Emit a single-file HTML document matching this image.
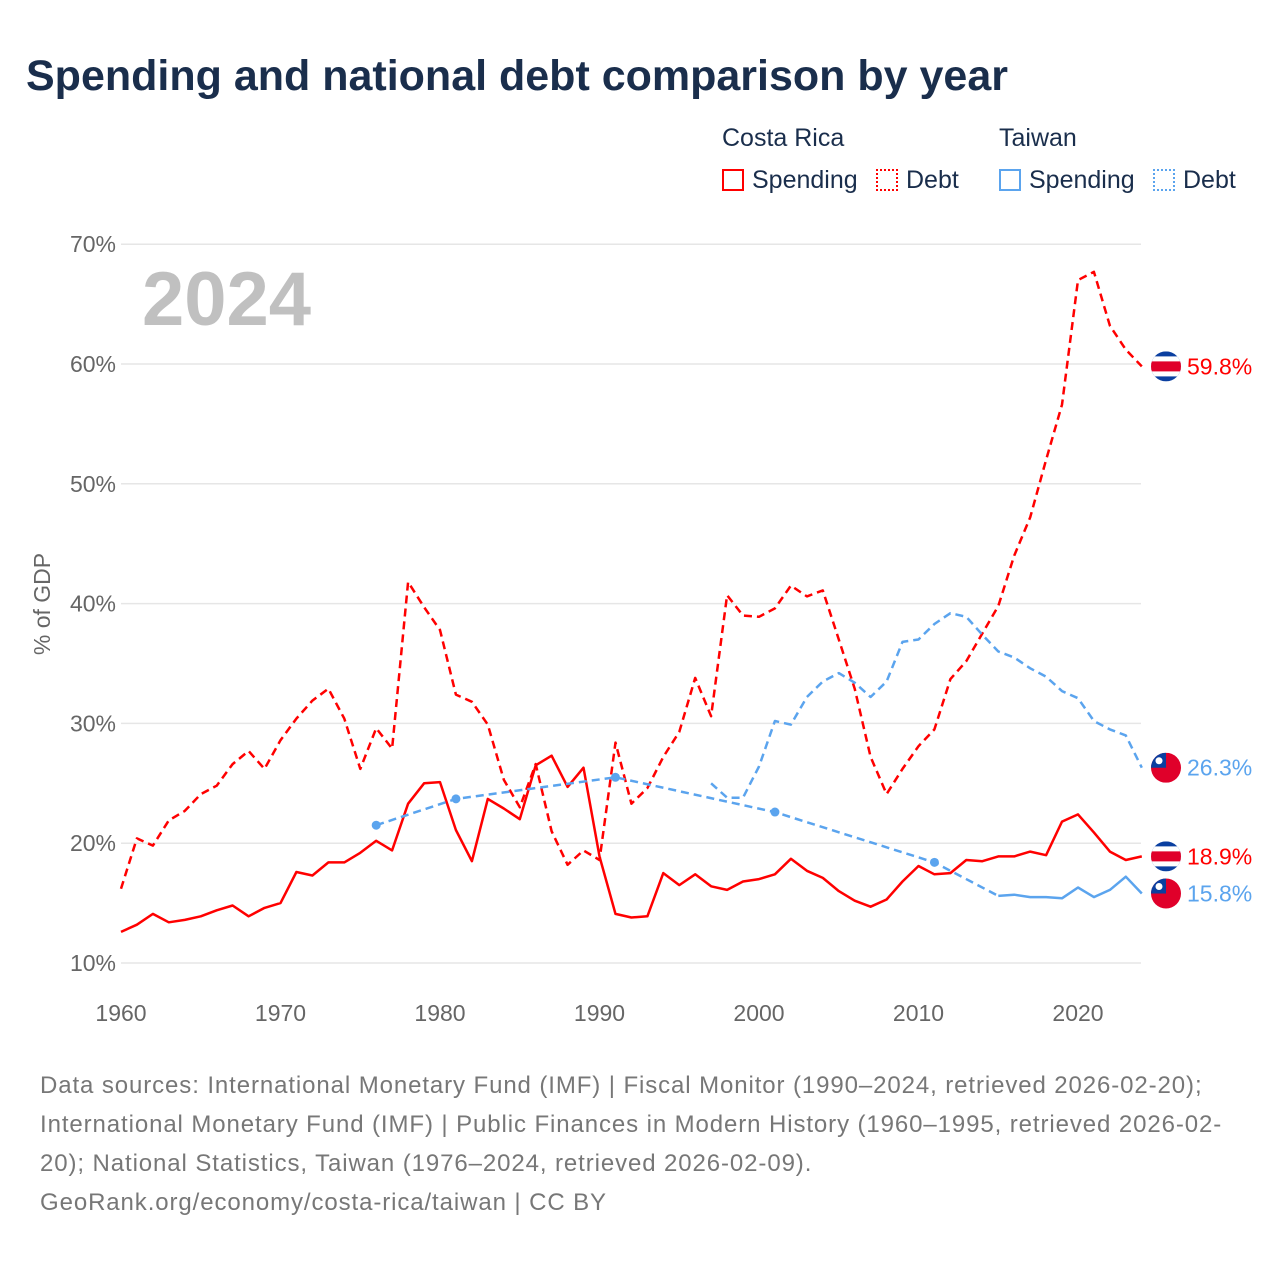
<!DOCTYPE html>
<html><head><meta charset="utf-8"><style>
body{margin:0;background:#fff;font-family:"Liberation Sans",sans-serif;}
#wrap{position:relative;width:1280px;height:1280px;overflow:hidden;}
.t{position:absolute;white-space:nowrap;}
</style></head><body>
<div id="wrap">
<div class="t" style="left:26px;top:52px;font-size:43px;font-weight:bold;color:#1a2e4c;">Spending and national debt comparison by year</div>
<div class="t" style="left:722px;top:124px;font-size:25px;color:#1a2e4c;">Costa Rica</div>
<div class="t" style="left:999px;top:124px;font-size:25px;color:#1a2e4c;">Taiwan</div>
<div class="t" style="left:722px;top:166px;font-size:25px;color:#1a2e4c;"><span style="display:inline-block;width:22px;height:22px;border:2px solid #ff0000;box-sizing:border-box;vertical-align:-3px;margin-right:8px"></span>Spending</div>
<div class="t" style="left:876px;top:166px;font-size:25px;color:#1a2e4c;"><span style="display:inline-block;width:22px;height:22px;border:2px dotted #ff0000;box-sizing:border-box;vertical-align:-3px;margin-right:8px"></span>Debt</div>
<div class="t" style="left:999px;top:166px;font-size:25px;color:#1a2e4c;"><span style="display:inline-block;width:22px;height:22px;border:2px solid #5ba4ee;box-sizing:border-box;vertical-align:-3px;margin-right:8px"></span>Spending</div>
<div class="t" style="left:1153px;top:166px;font-size:25px;color:#1a2e4c;"><span style="display:inline-block;width:22px;height:22px;border:2px dotted #5ba4ee;box-sizing:border-box;vertical-align:-3px;margin-right:8px"></span>Debt</div>
<svg id="chart" width="1280" height="1280" style="position:absolute;left:0;top:0"></svg>
<div class="t" style="left:40px;top:1066px;font-size:24px;letter-spacing:0.9px;line-height:39px;color:#777;white-space:normal;width:1200px;">Data sources: International Monetary Fund (IMF) | Fiscal Monitor (1990–2024, retrieved 2026-02-20); International Monetary Fund (IMF) | Public Finances in Modern History (1960–1995, retrieved 2026-02-20); National Statistics, Taiwan (1976–2024, retrieved 2026-02-09).<br>GeoRank.org/economy/costa-rica/taiwan | CC BY</div>
</div>
<script>
const yTicks=[10,20,30,40,50,60,70];
const xTicks=[1960,1970,1980,1990,2000,2010,2020];
const crYears=[];for(let y=1960;y<=2024;y++)crYears.push(y);
const crDebt=[16.2,20.4,19.8,21.9,22.7,24.1,24.8,26.6,27.7,26.2,28.6,30.4,31.9,32.9,30.4,26.2,29.6,27.9,41.8,39.7,37.8,32.4,31.8,29.9,25.3,23.0,26.6,21.0,18.2,19.4,18.6,28.4,23.3,24.6,27.2,29.3,33.8,30.6,40.7,39.0,38.9,39.6,41.5,40.6,41.1,37.0,32.9,27.2,24.1,26.2,28.1,29.5,33.7,35.2,37.5,39.8,44.0,47.2,52.0,56.6,67.0,67.7,63.2,61.2,59.8];
const crSpending=[12.6,13.2,14.1,13.4,13.6,13.9,14.4,14.8,13.9,14.6,15.0,17.6,17.3,18.4,18.4,19.2,20.2,19.4,23.3,25.0,25.1,21.1,18.5,23.7,22.9,22.0,26.5,27.3,24.7,26.3,18.9,14.1,13.8,13.9,17.5,16.5,17.4,16.4,16.1,16.8,17.0,17.4,18.7,17.7,17.1,16.0,15.2,14.7,15.3,16.8,18.1,17.4,17.5,18.6,18.5,18.9,18.9,19.3,19.0,21.8,22.4,20.9,19.3,18.6,18.9];
const twDebtYears=[1997,1998,1999,2000,2001,2002,2003,2004,2005,2006,2007,2008,2009,2010,2011,2012,2013,2014,2015,2016,2017,2018,2019,2020,2021,2022,2023,2024];
const twDebt=[25.0,23.8,23.8,26.4,30.2,29.9,32.2,33.5,34.2,33.4,32.2,33.5,36.8,37.0,38.3,39.2,38.9,37.4,36.0,35.5,34.6,33.9,32.7,32.1,30.2,29.5,29.0,26.3];
const twSparseYears=[1976,1981,1991,2001,2011];
const twSparse=[21.5,23.7,25.5,22.6,18.4];
const twSpendYears=[2015,2016,2017,2018,2019,2020,2021,2022,2023,2024];
const twSpending=[15.6,15.7,15.5,15.5,15.4,16.3,15.5,16.1,17.2,15.8];

const NS='http://www.w3.org/2000/svg';
const svg=document.getElementById('chart');
const X=y=>121+(y-1960)*15.95;
const Y=v=>963-(v-10)*11.98;
function el(t,a,p){const e=document.createElementNS(NS,t);for(const k in a)e.setAttribute(k,a[k]);(p||svg).appendChild(e);return e;}
yTicks.forEach(v=>{
  const g=el('line',{x1:121,x2:1141,y1:Y(v),y2:Y(v),stroke:'#e6e6e6','stroke-width':1.5});
  
  
  const t=el('text',{x:116,y:Y(v)+8,'text-anchor':'end','font-size':23,fill:'#666','font-family':'Liberation Sans'});
  t.textContent=v+'%';
  
  
});
xTicks.forEach(y=>{
  const t=el('text',{x:X(y),y:1021,'text-anchor':'middle','font-size':23,fill:'#666','font-family':'Liberation Sans'});
  t.textContent=y;
  
  
});
const yt=el('text',{x:0,y:0,transform:'translate(50,604) rotate(-90)','text-anchor':'middle','font-size':23,fill:'#666','font-family':'Liberation Sans'});
yt.textContent='% of GDP';


const yr=el('text',{x:142,y:325,'font-size':76,'font-weight':'bold',fill:'#c0c0c0','font-family':'Liberation Sans'});
yr.textContent='2024';


function line(xs,vs,color,dash,name){
  const d=xs.map((x,i)=>(i?'L':'M')+X(x).toFixed(1)+' '+Y(vs[i]).toFixed(1)).join(' ');
  const p=el('path',{d:d,fill:'none',stroke:color,'stroke-width':2.5,'stroke-dasharray':dash||'none','stroke-linejoin':'round'});
  
  
  return p;
}
line(crYears,crDebt,'#ff0000','8 5','cr-debt-line');
line(crYears,crSpending,'#ff0000',null,'cr-spending-line');
line(twDebtYears,twDebt,'#5ba4ee','8 5','tw-debt-line');
line(twSparseYears.concat([twSpendYears[0]]),twSparse.concat([twSpending[0]]),'#5ba4ee','8 5','tw-spending-gap-line');
line(twSpendYears,twSpending,'#5ba4ee',null,'tw-spending-line');
twSparseYears.forEach((y,i)=>{
  const c=el('circle',{cx:X(y),cy:Y(twSparse[i]),r:4.5,fill:'#5ba4ee'});
  
  
});
function crFlag(cy,name){
  const g=el('g',{});
  
  
  const id='c'+Math.round(cy);
  const cp=el('clipPath',{id:id},g);el('circle',{cx:1166,cy:cy,r:15},cp);
  const s=el('g',{'clip-path':'url(#'+id+')'},g);
  el('rect',{x:1150,y:cy-15,width:32,height:30,fill:'#0a3fa0'},s);
  el('rect',{x:1150,y:cy-10,width:32,height:20,fill:'#fff'},s);
  el('rect',{x:1150,y:cy-5,width:32,height:10,fill:'#e0002a'},s);
}
function twFlag(cy,name){
  const g=el('g',{});
  
  
  const id='t'+Math.round(cy);
  const cp=el('clipPath',{id:id},g);el('circle',{cx:1166,cy:cy,r:15},cp);
  const s=el('g',{'clip-path':'url(#'+id+')'},g);
  el('rect',{x:1150,y:cy-15,width:32,height:30,fill:'#e0002a'},s);
  el('rect',{x:1150,y:cy-15,width:16,height:15,fill:'#0a3fa0'},s);
  el('circle',{cx:1159,cy:cy-7,r:3.5,fill:'#fff'},s);
}
function endLabel(v,color,txt,name){
  const t=el('text',{x:1187,y:Y(v)+8,'font-size':23,fill:color,'font-family':'Liberation Sans'});
  t.textContent=txt;
  
  
}
crFlag(Y(crDebt[crDebt.length-1]),'cr-debt-flag');
twFlag(Y(twDebt[twDebt.length-1]),'tw-debt-flag');
crFlag(Y(crSpending[crSpending.length-1]),'cr-spending-flag');
twFlag(Y(twSpending[twSpending.length-1]),'tw-spending-flag');
endLabel(crDebt[crDebt.length-1],'#ff0000',crDebt[crDebt.length-1].toFixed(1)+'%','cr-debt-end-label');
endLabel(twDebt[twDebt.length-1],'#5ba4ee',twDebt[twDebt.length-1].toFixed(1)+'%','tw-debt-end-label');
endLabel(crSpending[crSpending.length-1],'#ff0000',crSpending[crSpending.length-1].toFixed(1)+'%','cr-spending-end-label');
endLabel(twSpending[twSpending.length-1],'#5ba4ee',twSpending[twSpending.length-1].toFixed(1)+'%','tw-spending-end-label');
</script>
</body></html>
